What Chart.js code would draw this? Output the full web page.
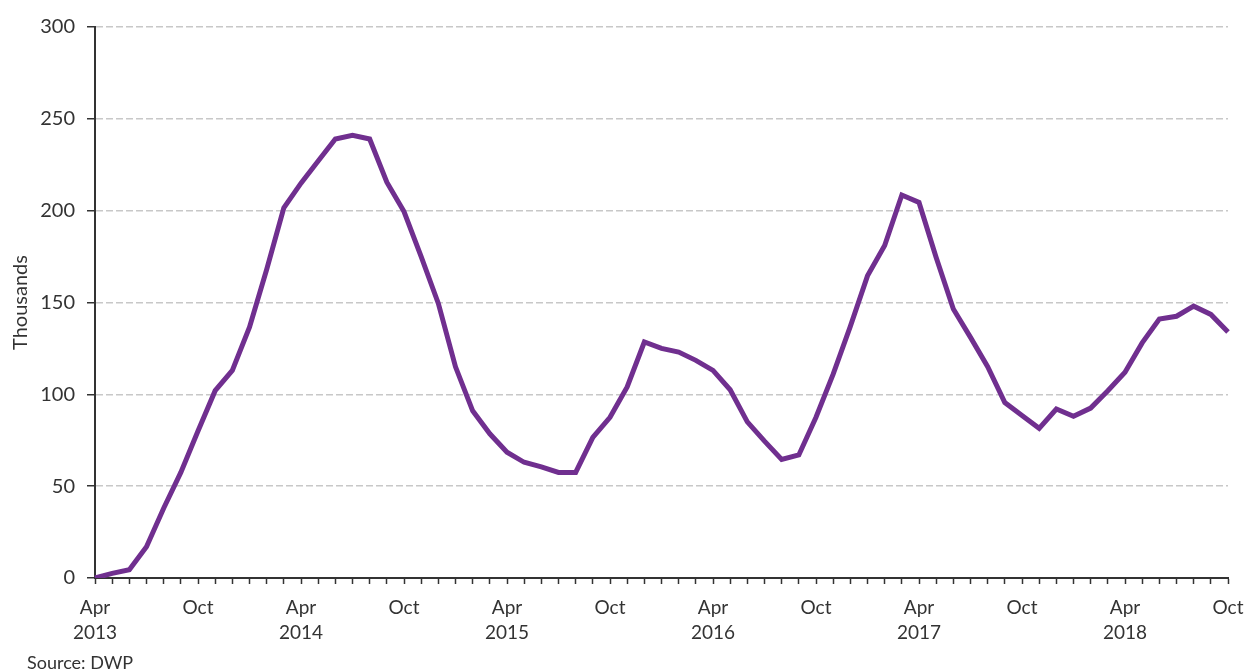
<!DOCTYPE html>
<html>
<head>
<meta charset="utf-8">
<script src="https://cdn.jsdelivr.net/npm/chart.js@4.4.1/dist/chart.umd.min.js"></script>
<style>
  html, body { margin: 0; padding: 0; background: #ffffff; }
  #wrap { position: relative; width: 1249px; height: 672px; }
  #source { position: absolute; left: 27px; top: 651px; font-family: Lato, sans-serif; font-size: 18px; color: #333333; }
</style>
</head>
<body>
<div id="wrap">
  <canvas id="c" width="1249" height="672"></canvas>
  <div id="source">Source: DWP</div>
</div>
<script>
const categories = [
  'Apr 2013','May 2013','Jun 2013','Jul 2013','Aug 2013','Sep 2013','Oct 2013','Nov 2013','Dec 2013',
  'Jan 2014','Feb 2014','Mar 2014','Apr 2014','May 2014','Jun 2014','Jul 2014','Aug 2014','Sep 2014','Oct 2014','Nov 2014','Dec 2014',
  'Jan 2015','Feb 2015','Mar 2015','Apr 2015','May 2015','Jun 2015','Jul 2015','Aug 2015','Sep 2015','Oct 2015','Nov 2015','Dec 2015',
  'Jan 2016','Feb 2016','Mar 2016','Apr 2016','May 2016','Jun 2016','Jul 2016','Aug 2016','Sep 2016','Oct 2016','Nov 2016','Dec 2016',
  'Jan 2017','Feb 2017','Mar 2017','Apr 2017','May 2017','Jun 2017','Jul 2017','Aug 2017','Sep 2017','Oct 2017','Nov 2017','Dec 2017',
  'Jan 2018','Feb 2018','Mar 2018','Apr 2018','May 2018','Jun 2018','Jul 2018','Aug 2018','Sep 2018','Oct 2018'
];
const values = [
  0, 2.5, 4.5, 17, 38, 57.5, 80, 102, 113,
  136.5, 168, 201.5, 215, 227, 239, 241, 239, 215.5, 199.5, 175, 149.5,
  115, 91, 78.5, 68.5, 63, 60.5, 57.5, 57.5, 76.5, 87.5, 104, 128.5,
  125, 123, 118.5, 113, 102.5, 85, 74.5, 64.5, 67, 87.5, 111, 137,
  164.5, 181, 208.5, 204.5, 174.5, 146.5, 131, 115, 95.5, 88.5, 81.5, 92,
  88, 92.5, 102, 112, 128, 141, 142.5, 148, 143.5, 134
];
const yTicks = [0, 50, 100, 150, 200, 250, 300];

const FONT = 'Lato, "Open Sans", sans-serif';
const TEXT = '#333333';
const AXIS = '#333333';

new Chart(document.getElementById('c'), {
  type: 'line',
  data: {
    labels: categories,
    datasets: [{
      data: values,
      borderColor: '#702F8F',
      borderWidth: 5,
      pointRadius: 0,
      tension: 0,
      fill: false
    }]
  },
  options: {
    responsive: false,
    animation: false,
    devicePixelRatio: 1,
    layout: { padding: { top: 27, right: 21, bottom: 0, left: 0 } },
    plugins: { legend: { display: false }, tooltip: { enabled: false } },
    scales: {
      x: {
        type: 'category',
        offset: false,
        grid: { drawOnChartArea: false, drawTicks: true, tickLength: 6, tickColor: AXIS, tickWidth: 1.5 },
        border: { color: AXIS, width: 2 },
        ticks: {
          autoSkip: false, maxRotation: 0, minRotation: 0, padding: 11,
          color: TEXT, font: { family: FONT, size: 19, lineHeight: 1.32 },
          callback: function(v, i) {
            const parts = categories[i].split(' ');
            if (parts[0] === 'Apr') return [parts[0], parts[1]];
            if (parts[0] === 'Oct') return parts[0];
            return '';
          }
        },
        afterFit: function(s) { s.height = 94; s.paddingRight = 0; s.paddingLeft = 0; }
      },
      y: {
        min: 0, max: 300,
        afterBuildTicks: function(s) { s.ticks = yTicks.map(v => ({ value: v })); },
        grid: {
          color: function(ctx) { return ctx.tick && ctx.tick.value === 0 ? 'rgba(0,0,0,0)' : '#c8c8c8'; },
          lineWidth: 1.5,
          tickColor: AXIS, tickLength: 8, tickWidth: 1.5, tickBorderDash: []
        },
        border: { color: AXIS, width: 2, dash: [7, 3] },
        ticks: { padding: 12, color: TEXT, font: { family: FONT, size: 20 } },
        title: { display: true, text: 'Thousands', color: TEXT, font: { family: FONT, size: 20 }, padding: { top: 9, bottom: 0 } },
        afterFit: function(s) { s.width = 95; }
      }
    }
  }
});
</script>
</body>
</html>
